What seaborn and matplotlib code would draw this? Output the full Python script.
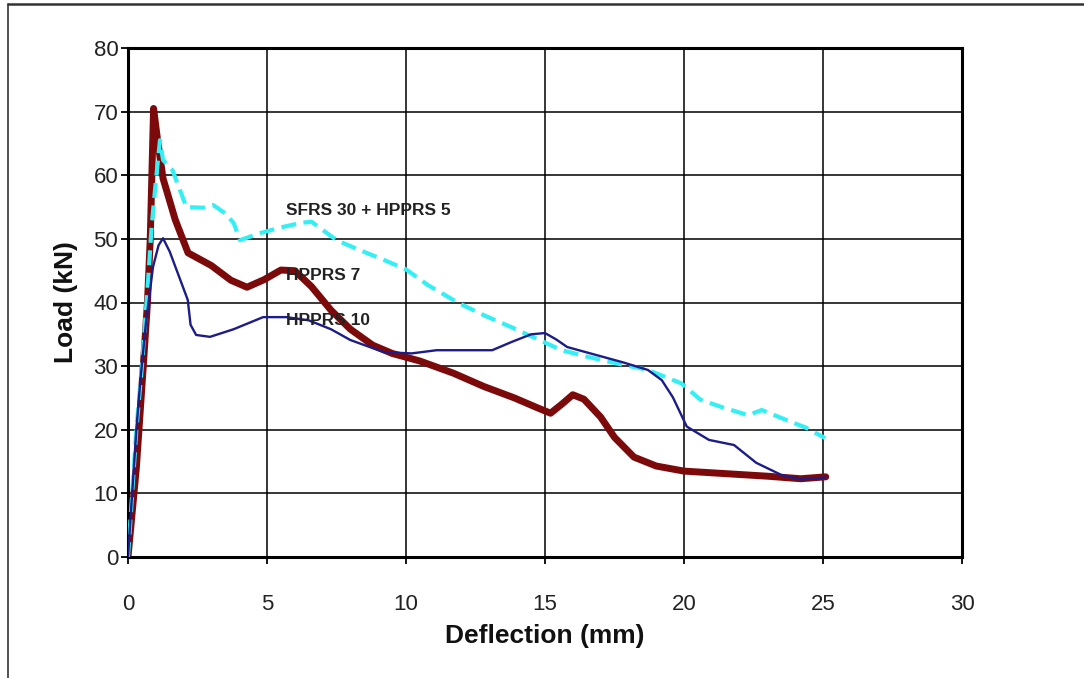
import numpy as np
import pandas as pd
import matplotlib
matplotlib.use('Agg')
import matplotlib.pyplot as plt
from matplotlib.lines import Line2D
import seaborn as sns

# HPPRS 7 (thick dark red)
hpprs7_x = [0, 0.3, 0.55, 0.7, 0.8, 0.92, 1.05, 1.26, 1.7, 2.16, 3.0, 3.7, 4.28, 4.9,
            5.5, 6.0, 6.6, 7.3, 8.0, 8.8, 9.5, 10.5, 11.7, 12.8, 13.9, 14.7, 15.2,
            15.6, 16.0, 16.4, 17.0, 17.5, 18.2, 19.0, 20.0, 21.5, 23.0, 24.2, 25.1]
hpprs7_y = [0, 14, 30, 40, 50, 70.5, 66, 59.5, 53, 47.8, 45.8, 43.5, 42.4, 43.6,
            45.1, 45.0, 42.5, 38.8, 35.8, 33.3, 32.0, 30.8, 28.9, 26.8, 25.0, 23.5,
            22.6, 24.0, 25.5, 24.8, 22.0, 18.8, 15.7, 14.3, 13.5, 13.1, 12.7, 12.3, 12.6]

# HPPRS 10 (thin navy)
hpprs10_x = [0, 0.15, 0.3, 0.45, 0.65, 0.9, 1.1, 1.26, 1.5, 1.8, 2.15, 2.25, 2.45,
             2.95, 3.8, 4.86, 5.7, 6.5, 7.3, 8.0, 9.2, 10.2, 11.1, 12.2, 13.1, 13.8,
             14.5, 15.0, 15.4, 15.8, 16.8, 17.8, 18.7, 19.2, 19.6, 20.1, 20.9, 21.8,
             22.6, 23.5, 24.2, 25.1]
hpprs10_y = [0, 10, 20, 28, 37, 45.6, 49, 50.1, 48, 44.5, 40.4, 36.5, 34.9, 34.6,
             35.8, 37.7, 37.7, 37.2, 35.8, 34.1, 32.2, 32.0, 32.5, 32.5, 32.5, 33.8,
             35.0, 35.2, 34.2, 33.0, 31.8, 30.6, 29.4, 27.8, 25.1, 20.5, 18.4, 17.6,
             14.8, 12.9, 12.2, 12.5]

# SFRS 30 + HPPRS 5 (dashed cyan)
sfrs_x = [0, 0.15, 0.3, 0.5, 0.7, 0.85, 1.0, 1.15, 1.26, 1.6, 2.1, 2.7, 3.07, 3.5,
          3.8, 4.03, 4.75, 5.5, 6.2, 6.6, 7.5, 8.3, 9.2, 10.0, 10.8, 11.9, 12.8,
          13.85, 14.7, 15.6, 16.5, 17.5, 18.7, 19.9, 20.6, 21.4, 22.3, 22.8, 23.7,
          24.4, 25.07]
sfrs_y = [0, 10, 20, 30, 42, 52, 59, 65.5, 62.4, 60.8, 55.0, 54.9, 55.3, 54.0,
          52.5, 49.8, 50.9, 51.8, 52.5, 52.7, 49.8, 48.3, 46.7, 45.2, 42.7, 39.9,
          38.0, 36.0, 34.3, 32.5, 31.5, 30.5, 29.4, 27.3, 24.7, 23.5, 22.3, 23.1,
          21.5, 20.3, 18.7]

labels = ['SFRS 30 + HPPRS 5', 'HPPRS 7', 'HPPRS 10']
label_pos = [(5.68, 54.5), (5.68, 44.3), (5.68, 37.2)]

sns.set_style('white')
plt.rcParams['font.family'] = ['Liberation Sans', 'DejaVu Sans']

fig = plt.figure(figsize=(10.84, 6.78), dpi=100)
ax = fig.add_axes([128 / 1084, 1 - 557 / 678, (962 - 128) / 1084, (557 - 48) / 678])

sns.lineplot(x=sfrs_x, y=sfrs_y, sort=False, estimator=None, ax=ax,
             color='#33f0f5', linewidth=3.0, linestyle=(0, (3.6, 1.8)), zorder=3,
             dash_joinstyle='round')
sns.lineplot(x=hpprs10_x, y=hpprs10_y, sort=False, estimator=None, ax=ax,
             color='#1c1c8a', linewidth=1.7, zorder=4, solid_joinstyle='round')
sns.lineplot(x=hpprs7_x, y=hpprs7_y, sort=False, estimator=None, ax=ax,
             color='#7d0a0a', linewidth=5.0, zorder=2, solid_joinstyle='round',
             solid_capstyle='round')

for text, (tx, ty) in zip(labels, label_pos):
    ax.text(tx, ty, text, fontsize=12.5, fontweight='bold', color='#222222',
            va='center', ha='left', zorder=5)

ax.set_xlim(0, 30)
ax.set_ylim(0, 80)
ax.set_xticks(range(0, 31, 5))
ax.set_yticks(range(0, 81, 10))
ax.grid(True, color='black', linewidth=1.1)
ax.set_axisbelow(True)
for sp in ax.spines.values():
    sp.set_color('black')
    sp.set_linewidth(2.2)
ax.tick_params(axis='both', direction='out', length=5, width=1.3, color='black',
               labelsize=16, labelcolor='#222222', left=True, bottom=True)
ax.tick_params(axis='x', pad=22)
ax.tick_params(axis='y', pad=2)
ax.set_xlabel('Deflection (mm)', fontsize=19, fontweight='bold', color='#111111', labelpad=6)
ax.set_ylabel('Load (kN)', fontsize=19, fontweight='bold', color='#111111', labelpad=11)

# outer frame (top and left edges)
fig.add_artist(Line2D([8 / 1084, 8 / 1084], [0, 1 - 4 / 678], color='#333333', linewidth=1.2))
fig.add_artist(Line2D([8 / 1084, 1], [1 - 4 / 678, 1 - 4 / 678], color='#333333', linewidth=1.8))

fig.savefig('out.png', dpi=100)
